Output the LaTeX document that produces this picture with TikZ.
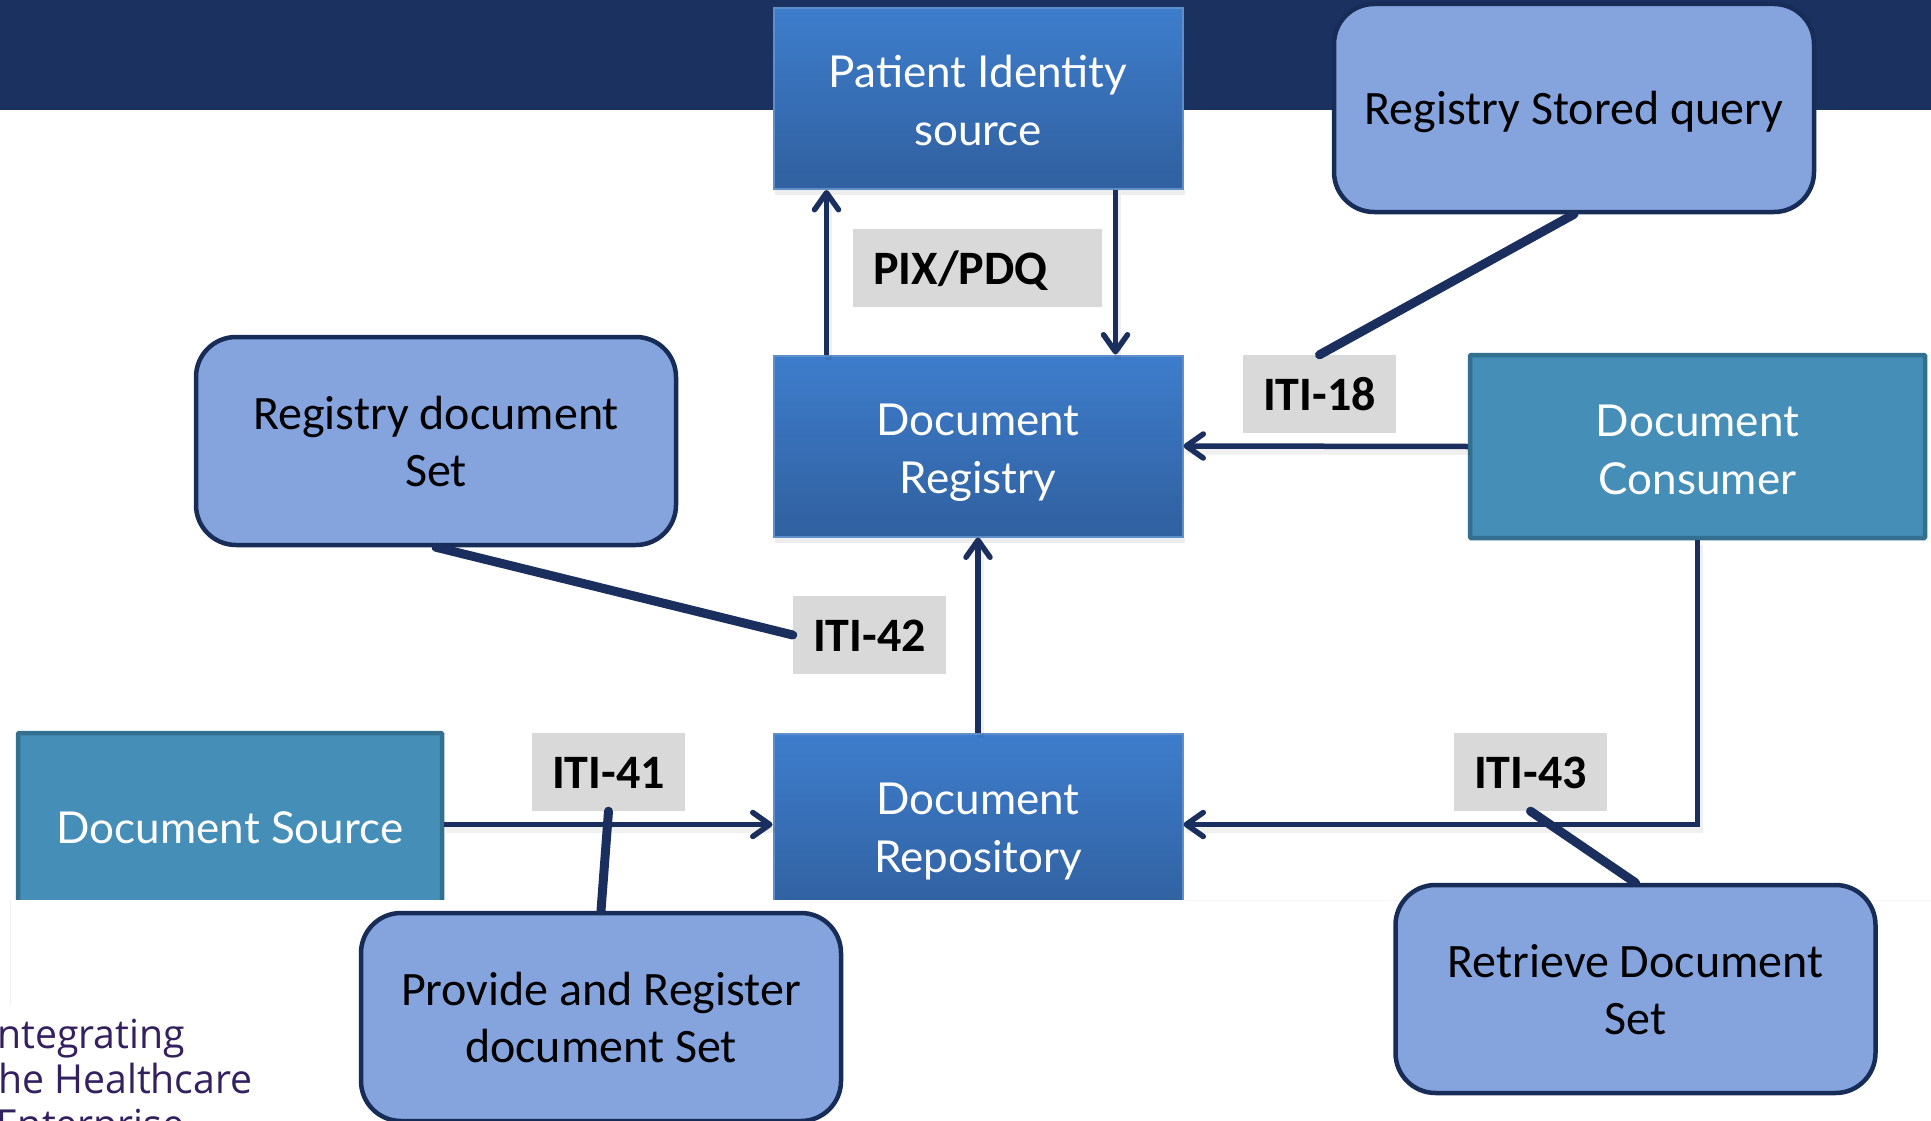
\documentclass[tikz,border=0pt]{standalone}
\usepackage{fontspec}
\setmainfont{Carlito}
\newfontfamily\gillish{Lato}
\newfontfamily\logofont{Open Sans}
\usetikzlibrary{arrows.meta,calc}
\definecolor{navy}{HTML}{1B3160}
\definecolor{linenavy}{HTML}{1A2F5E}
\definecolor{bluetop}{HTML}{3E7DCC}
\definecolor{bluebot}{HTML}{30609F}
\definecolor{blueedge}{HTML}{5F8FCB}
\definecolor{teal}{HTML}{458EB8}
\definecolor{tealedge}{HTML}{336F8E}
\definecolor{soft}{HTML}{85A3DD}
\definecolor{softedge}{HTML}{172C56}
\definecolor{labelgray}{HTML}{D9D9D9}
\definecolor{logopurple}{HTML}{33205F}
\newcommand{\lowerline}{\rule{0pt}{37pt}}
\tikzset{
  whitetext/.style={font=\gillish\fontsize{44}{58}\selectfont,text=white,align=center,inner sep=0pt,text depth=0pt},
  actor/.style={whitetext,rectangle,bottom color=bluebot,top color=bluetop,draw=blueedge,line width=2pt,
     minimum width=409pt,minimum height=181pt},
  client/.style={whitetext,rectangle,fill=teal,draw=tealedge,line width=4.5pt,rounded corners=1pt},
  txbox/.style={rectangle,rounded corners=40pt,fill=soft,draw=softedge,line width=4.5pt,
     minimum width=480pt,minimum height=208pt,font=\fontsize{48}{57}\selectfont,text=black,align=center,inner sep=0pt,text depth=0pt},
  tag/.style={rectangle,fill=labelgray,minimum width=153pt,minimum height=78pt,inner sep=0pt,
     font=\bfseries\fontsize{48}{54}\selectfont,text=black,text height=33.5pt,text depth=0pt},
  flow/.style={draw=linenavy,line width=5.5pt,-{Straight Barb[length=17pt,width=24pt,line width=5.5pt,round]}},
  lead/.style={draw=linenavy,line width=9pt,line cap=round},
  shade/.style={preaction={draw=black,draw opacity=.06,line width=7pt,-,transform canvas={xshift=2pt,yshift=-5pt}}},
  logo/.style={font=\logofont\fontsize{40}{44}\selectfont,text=logopurple,anchor=base west,inner sep=0pt,xscale=.98}
}
\begin{document}
\begin{tikzpicture}[x=1pt,y=-1pt]
\useasboundingbox (0,0) rectangle (1931,1121);
\clip (0,0) rectangle (1931,1121);
\fill[white] (0,0) rectangle (1931,1121);
\fill[navy] (0,0) rectangle (1931,110);

% shadows of the gradient boxes
\fill[black,opacity=.07] (775,190) rectangle (1185,195);
\fill[black,opacity=.07] (775,538) rectangle (1185,543);

% actors
\node[actor] (pis) at (978,98.5) {\lowerline Patient Identity\\source};
\node[actor] (reg) at (978,446) {\lowerline Document\\Registry};
\node[actor] (repo) at (978,824.5) {\lowerline Document\\Repository};
\node[client,minimum width=455pt,minimum height=183pt] (cons) at (1697.5,446.5) {\lowerline Document\\Consumer};
\node[client,minimum width=424pt,minimum height=183pt] (src) at (230,824.5) {\lowerline Document Source};

% flows
\draw[flow,shade] ([xshift=54pt]reg.north west) -- ([xshift=54pt]pis.south west);
\draw[flow,shade] ([xshift=-68pt]pis.south east) -- ([xshift=-68pt]reg.north east);
\draw[flow,shade] (cons.west) -- (reg.east);
\draw[flow,shade] (repo.north) -- (reg.south);
\draw[flow,shade] (src.east) -- (repo.west);
\draw[flow,shade] (cons.south) |- (repo.east);

% white overlay that hides the lower part of the boxes
\fill[white] (10,900) rectangle (1931,1121);
\draw[black!6,line width=1pt] (10,900) -- (10,1005);
\draw[black!4,line width=1pt] (1183,900) -- (1931,900);

% logo fragment
\node[logo] (logoa) at (-3,1048) {ntegrating};
\node[logo] (logob) at (-2,1093) {he Healthcare};
\node[logo] (logoc) at (-4,1138) {Enterprise};

% labels
\node[tag,minimum width=249pt] (pix) at (977.5,268) {};
\node[font=\bfseries\fontsize{48}{54}\selectfont,anchor=west,inner sep=0pt,text depth=0pt] (pixt) at (873,268) {PIX/PDQ};
\node[tag] (i18) at (1319.5,394) {ITI-18};
\node[tag] (i42) at (869.5,635) {ITI-42};
\node[tag] (i41) at (608.5,772) {ITI-41};
\node[tag] (i43) at (1530.5,772) {ITI-43};

% transaction boxes
\node[txbox,text depth=1pt] (stored) at (1574,108) {Registry Stored query};
\node[txbox] (regset) at (436,441) {Registry document\\Set};
\node[txbox] (prov) at (601,1017) {Provide and Register\\document Set};
\node[txbox] (retr) at (1635.5,989) {Retrieve Document\\Set};

% leaders
\draw[lead] (stored.south) -- (i18.north);
\draw[lead] (regset.south) -- (i42.west);
\draw[lead] (i41.south) -- (prov.north);
\draw[lead] (i43.south) -- (retr.north);
\end{tikzpicture}
\end{document}
